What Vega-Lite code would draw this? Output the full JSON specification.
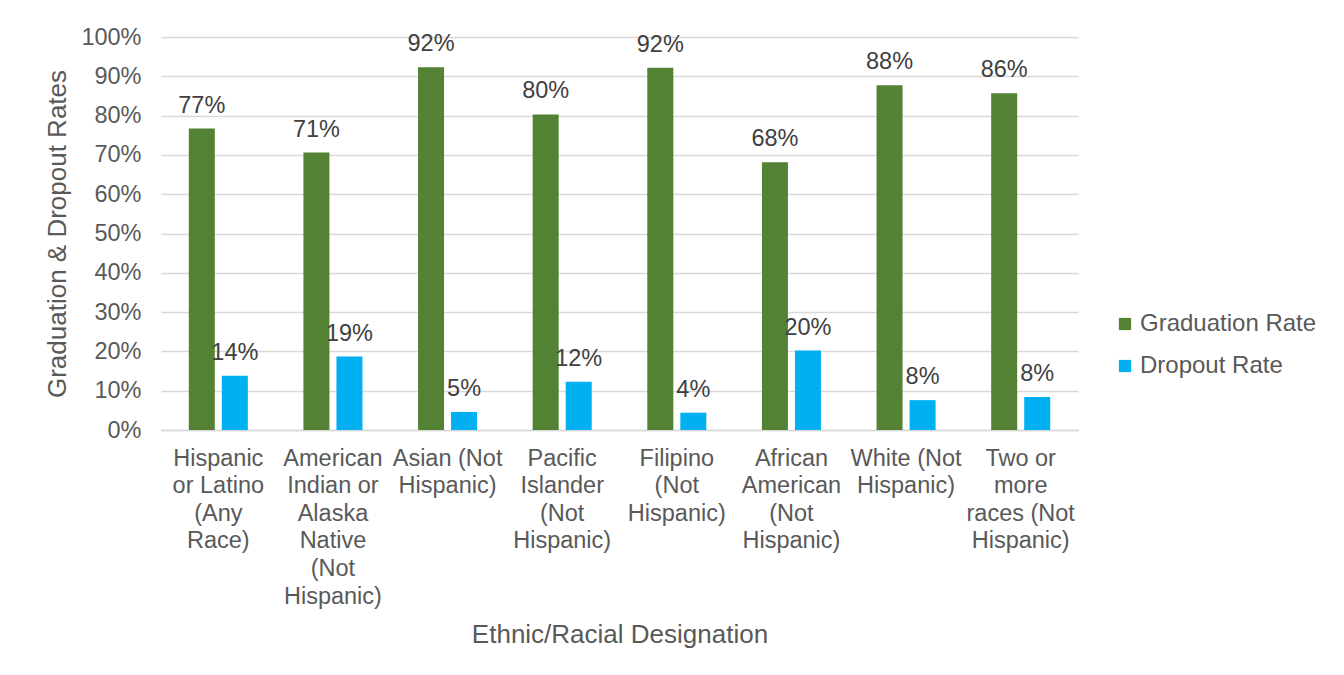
{
  "$schema": "https://vega.github.io/schema/vega-lite/v6.json",
  "autosize": "none",
  "width": 917,
  "height": 393,
  "padding": {"left": 161, "top": 37, "right": 266, "bottom": 245},
  "background": "#ffffff",
  "config": {
    "font": "Liberation Sans",
    "view": {"stroke": null},
    "axis": {"labelFont": "Liberation Sans", "titleFont": "Liberation Sans", "labelColor": "#595959", "titleColor": "#595959", "titleFontWeight": "normal"},
    "legend": {"labelFont": "Liberation Sans"}
  },
  "data": {
    "values": [
      {"group": "Hispanic or Latino (Any Race)", "series": "Graduation Rate", "rate": 0.767},
      {"group": "Hispanic or Latino (Any Race)", "series": "Dropout Rate", "rate": 0.138},
      {"group": "American Indian or Alaska Native (Not Hispanic)", "series": "Graduation Rate", "rate": 0.706},
      {"group": "American Indian or Alaska Native (Not Hispanic)", "series": "Dropout Rate", "rate": 0.187},
      {"group": "Asian (Not Hispanic)", "series": "Graduation Rate", "rate": 0.923},
      {"group": "Asian (Not Hispanic)", "series": "Dropout Rate", "rate": 0.046},
      {"group": "Pacific Islander (Not Hispanic)", "series": "Graduation Rate", "rate": 0.803},
      {"group": "Pacific Islander (Not Hispanic)", "series": "Dropout Rate", "rate": 0.123},
      {"group": "Filipino (Not Hispanic)", "series": "Graduation Rate", "rate": 0.922},
      {"group": "Filipino (Not Hispanic)", "series": "Dropout Rate", "rate": 0.044},
      {"group": "African American (Not Hispanic)", "series": "Graduation Rate", "rate": 0.681},
      {"group": "African American (Not Hispanic)", "series": "Dropout Rate", "rate": 0.202},
      {"group": "White (Not Hispanic)", "series": "Graduation Rate", "rate": 0.877},
      {"group": "White (Not Hispanic)", "series": "Dropout Rate", "rate": 0.076},
      {"group": "Two or more races (Not Hispanic)", "series": "Graduation Rate", "rate": 0.857},
      {"group": "Two or more races (Not Hispanic)", "series": "Dropout Rate", "rate": 0.084}
    ]
  },
  "encoding": {
    "x": {
      "field": "group",
      "type": "nominal",
      "sort": null,
      "scale": {"paddingInner": 0.485, "paddingOuter": 0.2425},
      "axis": {
        "title": "Ethnic/Racial Designation",
        "titleFontSize": 26,
        "titlePadding": 14,
        "labelFontSize": 23.5,
        "labelAngle": 0,
        "labelPadding": 16,
        "labelLineHeight": 27.6,
        "labelLimit": 0,
        "ticks": false,
        "domain": true,
        "domainColor": "#d9d9d9",
        "domainWidth": 1.5,
        "labelExpr": "({'Hispanic or Latino (Any Race)': ['Hispanic', 'or Latino', '(Any', 'Race)'], 'American Indian or Alaska Native (Not Hispanic)': ['American', 'Indian or', 'Alaska', 'Native', '(Not', 'Hispanic)'], 'Asian (Not Hispanic)': ['Asian (Not', 'Hispanic)'], 'Pacific Islander (Not Hispanic)': ['Pacific', 'Islander', '(Not', 'Hispanic)'], 'Filipino (Not Hispanic)': ['Filipino', '(Not', 'Hispanic)'], 'African American (Not Hispanic)': ['African', 'American', '(Not', 'Hispanic)'], 'White (Not Hispanic)': ['White (Not', 'Hispanic)'], 'Two or more races (Not Hispanic)': ['Two or', 'more', 'races (Not', 'Hispanic)']})[datum.value]"
      }
    },
    "xOffset": {
      "field": "series",
      "type": "nominal",
      "sort": ["Graduation Rate", "Dropout Rate"],
      "scale": {"paddingInner": 0.2121, "paddingOuter": 0}
    },
    "y": {
      "field": "rate",
      "type": "quantitative",
      "scale": {"domain": [0, 1], "nice": false},
      "axis": {
        "title": "Graduation & Dropout Rates",
        "titleFontSize": 26,
        "titlePadding": 10,
        "format": ".0%",
        "values": [0, 0.1, 0.2, 0.3, 0.4, 0.5, 0.6, 0.7, 0.8, 0.9, 1],
        "labelFontSize": 23.5,
        "labelPadding": 20,
        "ticks": false,
        "domain": false,
        "grid": true,
        "gridColor": "#d9d9d9",
        "gridWidth": 1.5
      }
    }
  },
  "layer": [
    {
      "mark": {"type": "bar"},
      "encoding": {
        "color": {
          "field": "series",
          "type": "nominal",
          "scale": {"domain": ["Graduation Rate", "Dropout Rate"], "range": ["#548235", "#00b0f0"]},
          "legend": {
            "title": null,
            "orient": "none",
            "legendX": 952,
            "legendY": 275,
            "symbolType": "square",
            "symbolSize": 150,
            "symbolStrokeWidth": 0,
            "labelFontSize": 24,
            "labelLimit": 0,
            "labelColor": "#595959",
            "rowPadding": 18,
            "labelOffset": 3
          }
        }
      }
    },
    {
      "mark": {"type": "text", "baseline": "alphabetic", "dy": -16, "fontSize": 23.5, "color": "#404040"},
      "encoding": {
        "text": {"field": "rate", "type": "quantitative", "format": ".0%"}
      }
    }
  ]
}
